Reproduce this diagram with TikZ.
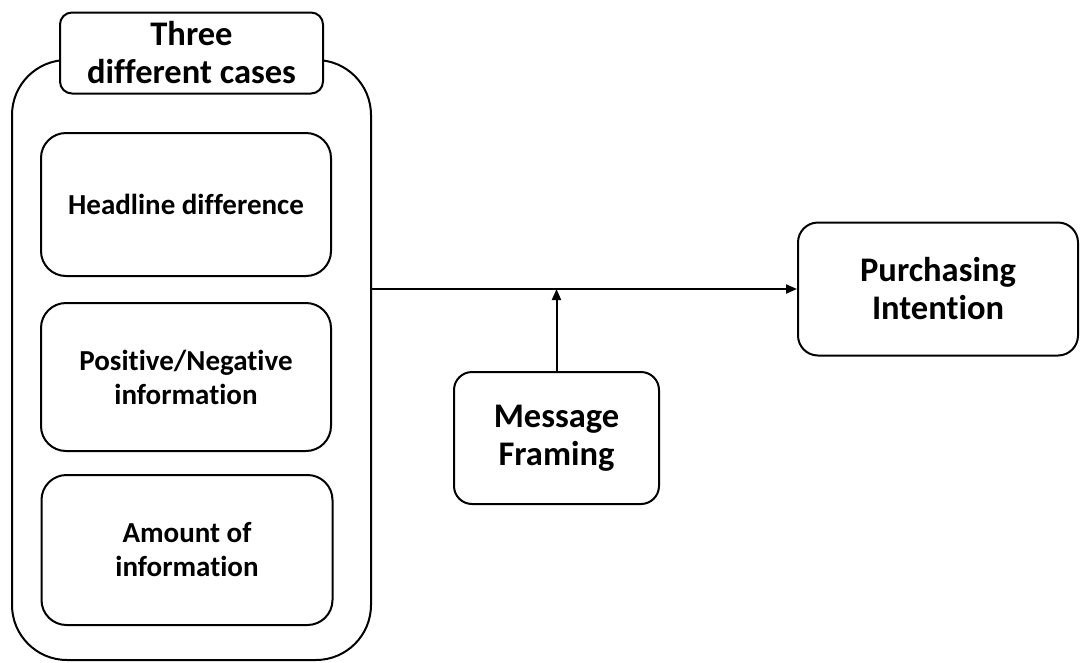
\documentclass[tikz,border=0pt]{standalone}
\usepackage{fontspec}
\setmainfont{Carlito}[Ligatures={NoCommon,NoRare,NoDiscretionary}]
\usetikzlibrary{arrows.meta}
\begin{document}
\begin{tikzpicture}[x=1pt,y=-1pt,line width=2pt,
  rbox/.style={draw,rectangle,rounded corners=#1,inner sep=0pt,align=center,fill=white},
  small/.style={font=\fontsize{29}{34}\selectfont\bfseries},
  big/.style={font=\fontsize{34.5}{38}\selectfont\bfseries},
  arr/.style={-{Triangle[length=11pt,width=9pt]}}]
\useasboundingbox (0,0) rectangle (1080,662);
% container of the three cases
\node[rbox=55,minimum width=359pt,minimum height=600pt] (outer) at (191.5,360) {};
\node[rbox=12,big,minimum width=263pt,minimum height=81pt] (label) at (191.5,53) {Three\\different cases};
\node[rbox=25,small,minimum width=290pt,minimum height=143pt] (head) at (186,204.5) {Headline difference};
\node[rbox=25,small,minimum width=290pt,minimum height=148pt] (posneg) at (186,377) {Positive/Negative\\information};
\node[rbox=25,small,minimum width=291pt,minimum height=150pt] (amount) at (187,550) {Amount of\\information};
% outcome and moderator
\node[rbox=20,big,minimum width=280pt,minimum height=133pt] (purch) at (938,289) {Purchasing\\Intention};
\node[rbox=18,big,minimum width=205pt,minimum height=132pt] (msg) at (556.5,438) {Message\\Framing};
% connectors
\draw[arr] (outer.east |- purch.west) -- (purch.west);
\draw[arr] (msg.north) -- (msg.north |- purch.west);
\end{tikzpicture}
\end{document}
